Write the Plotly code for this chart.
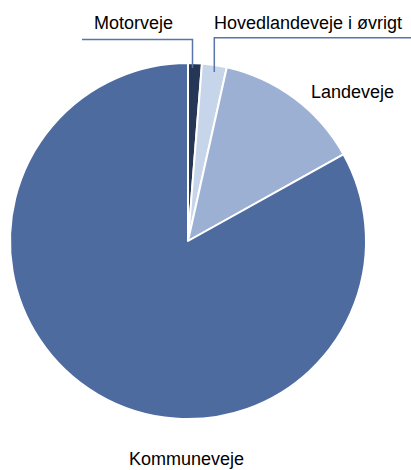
import plotly.graph_objects as go

labels = ["Motorveje", "Hovedlandeveje i øvrigt", "Landeveje", "Kommuneveje"]
values = [1.25, 2.25, 13.4, 83.1]
colors = ["#253656", "#c6d5ea", "#9cb0d4", "#4e6ba0"]

W, H = 411, 470
cx, cy, r = 188, 241, 178

def px(x):
    return x / W

def py(y):
    return 1 - y / H

fig = go.Figure(go.Pie(
    labels=labels, values=values, sort=False, direction="clockwise", rotation=0,
    marker=dict(colors=colors, line=dict(color="white", width=2)),
    textinfo="none", hoverinfo="label+percent", showlegend=False,
    domain=dict(x=[px(cx - r), px(cx + r)], y=[py(cy + r), py(cy - r)]),
))

font = dict(family="Liberation Sans, Arial, sans-serif", size=18, color="#000000")
label_pos = [(133, 23), (308, 23), (352, 92), (186, 459)]
for lab, (x, y) in zip(labels, label_pos):
    fig.add_annotation(x=px(x), y=py(y), xref="paper", yref="paper", text=lab,
                       showarrow=False, font=font, xanchor="center", yanchor="middle")

line = dict(color="#5874a8", width=1.5)
fig.add_shape(type="path", xref="paper", yref="paper",
              path=f"M {px(82)} {py(39.5)} L {px(192.5)} {py(39.5)} L {px(192.5)} {py(68)}", line=line)
fig.add_shape(type="path", xref="paper", yref="paper",
              path=f"M {px(214.3)} {py(72)} L {px(214.3)} {py(37.7)} L {px(411)} {py(37.7)}", line=line)

fig.update_layout(width=W, height=H, margin=dict(l=0, r=0, t=0, b=0),
                  paper_bgcolor="white", plot_bgcolor="white")
fig.write_html("out.html", config={"displayModeBar": False},
               post_script="document.body.style.margin='0px';document.body.style.overflow='hidden';")
